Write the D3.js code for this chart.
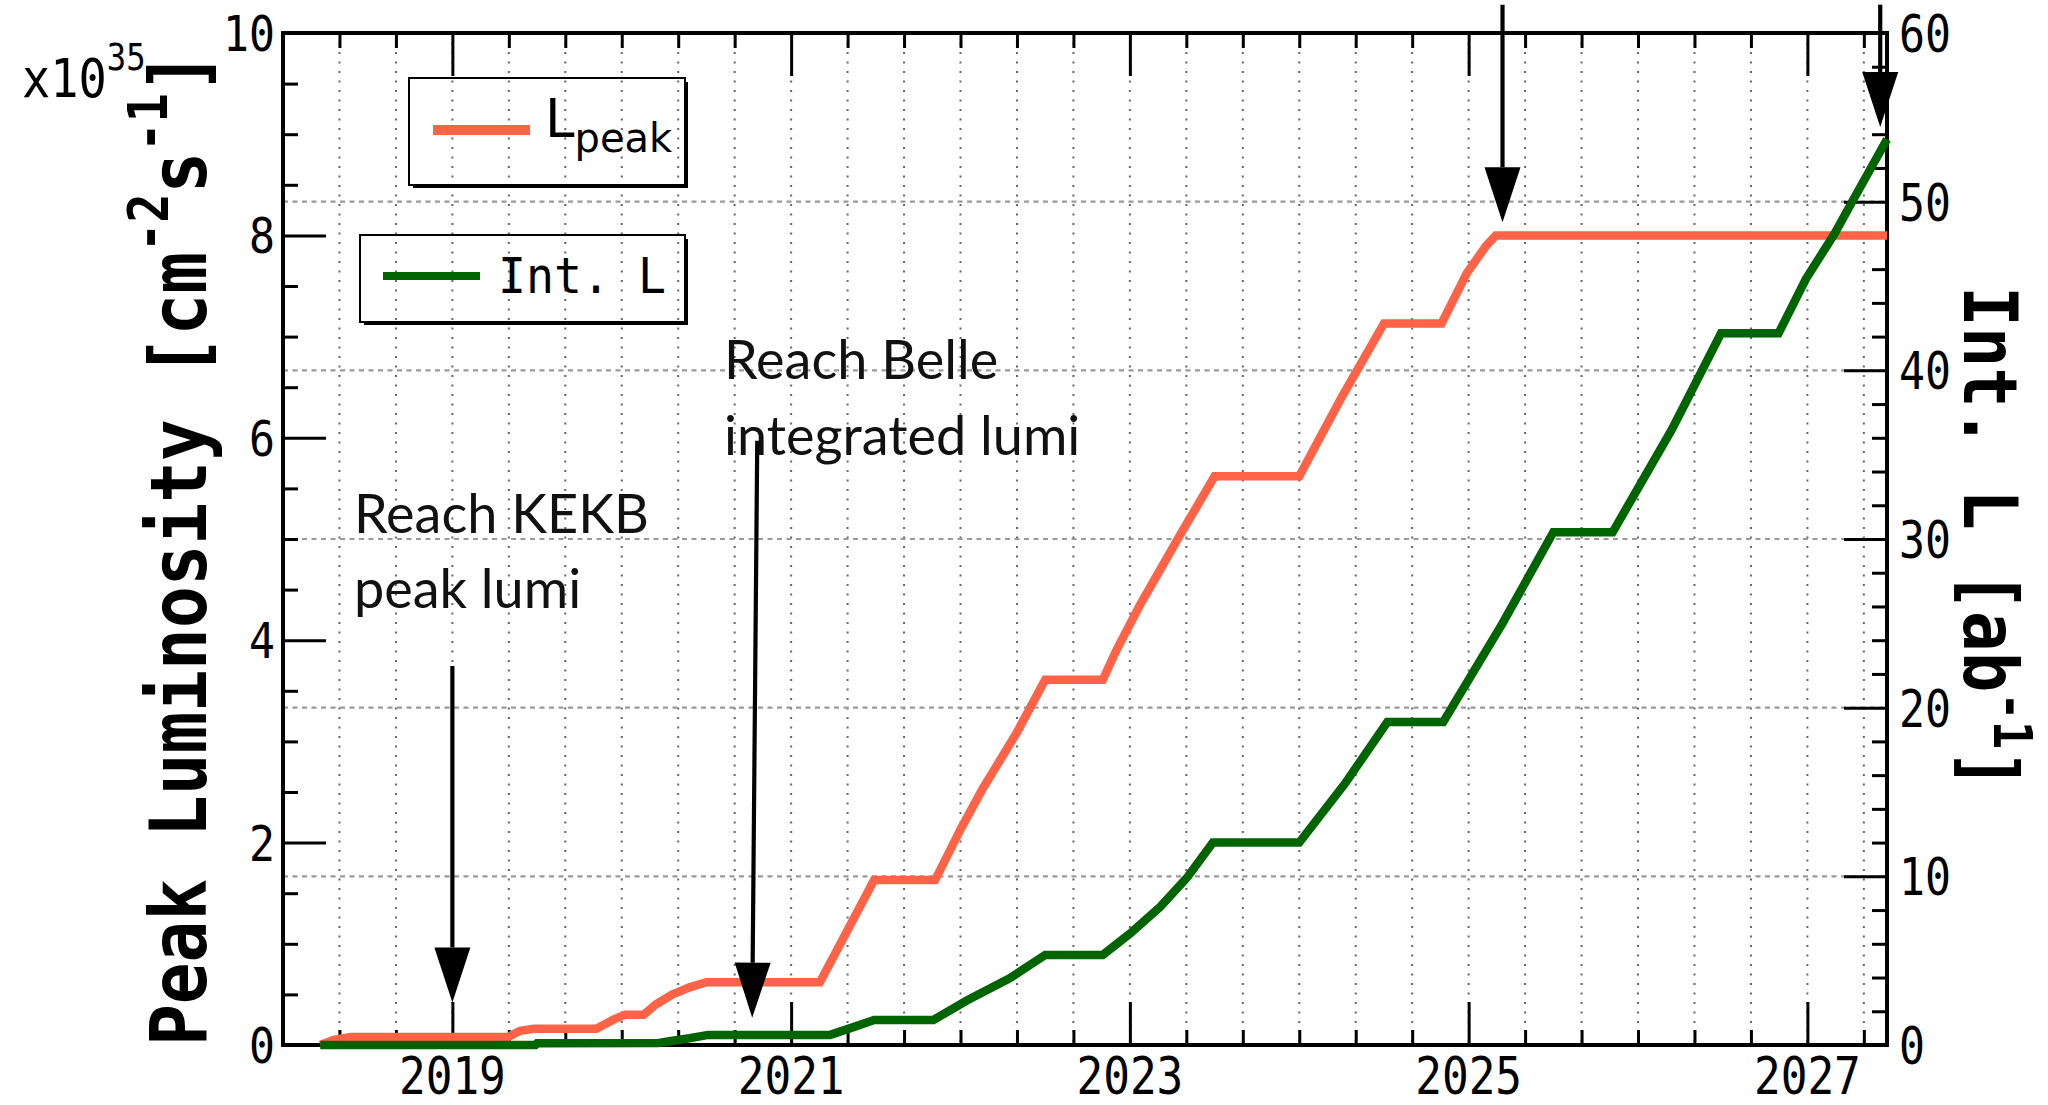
<!DOCTYPE html>
<html>
<head>
<meta charset="utf-8">
<script src="https://cdn.jsdelivr.net/npm/d3@7"></script>
<style>
  html, body { margin: 0; padding: 0; background: #fff; }
  svg { display: block; }
</style>
</head>
<body>
<svg id="chart" width="2048" height="1105"></svg>
<script>
// Luminosity projection: peak luminosity (left axis, x10^35 cm^-2 s^-1)
// and integrated luminosity (right axis, ab^-1) versus calendar year.

// ---- data ----
const lpeakYears = [2018.22, 2018.30, 2018.40, 2019.33, 2019.40, 2019.48, 2019.85, 2019.95,
  2020.02, 2020.13, 2020.20, 2020.30, 2020.40, 2020.50, 2021.17, 2021.49, 2021.85,
  2022.00, 2022.13, 2022.33, 2022.50, 2022.84, 2022.92, 2023.06, 2023.30, 2023.50,
  2024.00, 2024.25, 2024.50, 2024.84, 2024.99, 2025.10, 2025.16, 2027.47];
const lpeakValues = [0.00, 0.05, 0.08, 0.08, 0.14, 0.16, 0.16, 0.25,
  0.30, 0.30, 0.40, 0.50, 0.57, 0.62, 0.62, 1.63, 1.63,
  2.13, 2.53, 3.08, 3.61, 3.61, 3.90, 4.35, 5.05, 5.62,
  5.62, 6.40, 7.13, 7.13, 7.63, 7.89, 8.00, 8.00];

const intLYears = [2018.22, 2019.49, 2019.50, 2020.22, 2020.30, 2020.40, 2020.51, 2021.23,
  2021.35, 2021.49, 2021.84, 2022.04, 2022.29, 2022.50, 2022.84, 2023.00, 2023.18,
  2023.34, 2023.49, 2024.00, 2024.27, 2024.52, 2024.85, 2025.20, 2025.50, 2025.85,
  2026.20, 2026.49, 2026.83, 2026.99, 2027.16, 2027.27, 2027.47];
const intLValues = [0.00, 0.00, 0.10, 0.12, 0.25, 0.40, 0.60, 0.60,
  1.00, 1.48, 1.48, 2.65, 3.95, 5.34, 5.34, 6.60, 8.20,
  9.96, 12.00, 12.00, 15.50, 19.15, 19.15, 25.00, 30.40, 30.40,
  36.50, 42.20, 42.20, 45.40, 48.10, 50.10, 53.70];

const yearLabels = ["2019", "2021", "2023", "2025", "2027"];
const leftTickLabels = ["0", "2", "4", "6", "8", "10"];
const rightTickLabels = ["0", "10", "20", "30", "40", "50", "60"];

// event markers: year, arrow start value, arrow tip value (left-axis units)
const eventYearsFrom = [2019.00, 2020.80, 2025.20, 2027.43];
const eventYearsTo   = [2019.00, 2020.77, 2025.20, 2027.43];
const eventFrom      = [3.745, 5.97, 10.28, 10.28];
const eventTo        = [0.42, 0.27, 8.13, 9.07];
const noteKEKB  = ["Reach KEKB", "peak lumi"];
const noteBelle = ["Reach Belle", "integrated lumi"];

// ---- layout ----
const F = { left: 283, right: 1887, top: 33, bottom: 1045 };
const RED = "#ff6347", GREEN = "#006400";
const MONO = "'DejaVu Sans Mono', monospace";
const SANS = "'DejaVu Sans', sans-serif";
const NOTE = "Lato, 'Open Sans', sans-serif";

const svg = d3.select("#chart");

const x = d3.scaleLinear().domain([2018.0, 2027.47]).range([F.left, F.right]);
const yL = d3.scaleLinear().domain([0, 10]).range([F.bottom, F.top]);
const yR = d3.scaleLinear().domain([0, 60]).range([F.bottom, F.top]);

// ticks every four months, long ticks on labelled (odd) years
const xAll = d3.range(1, 29).map(k => 2018 + k / 3);
const xMajor = xAll.filter((d, i) => (i + 1) % 6 === 3);
const xMinor = xAll.filter((d, i) => (i + 1) % 6 !== 3);
const lMajor = leftTickLabels.map(Number);
const lMinor = d3.range(1, 20).map(k => k * 0.5).filter(v => v % 2 !== 0);
const rMajor = rightTickLabels.map(Number);
const rMinor = d3.range(1, 30).map(k => k * 2).filter(v => v % 10 !== 0);

// ---- grid ----
svg.append("g").selectAll("line").data(xAll).join("line")
  .attr("x1", d => x(d)).attr("x2", d => x(d))
  .attr("y1", F.top).attr("y2", F.bottom)
  .attr("stroke", "#666").attr("stroke-width", 2)
  .attr("stroke-dasharray", "2 7.5");

svg.append("g").selectAll("line").data(rMajor.filter(v => v > 0 && v < 60)).join("line")
  .attr("x1", F.left).attr("x2", F.right)
  .attr("y1", d => yR(d)).attr("y2", d => yR(d))
  .attr("stroke", "#9a9a9a").attr("stroke-width", 2.2)
  .attr("stroke-dasharray", "5 4.5");

// ---- annotation texts ----
function note(lines, x0, y0, gap) {
  const t = svg.append("g");
  lines.forEach((s, i) => {
    t.append("text").attr("x", x0).attr("y", y0 + i * gap)
      .attr("font-family", NOTE).attr("font-size", 54).attr("fill", "#111").text(s);
  });
}
note(noteKEKB, 354, 533, 75);
note(noteBelle, 724, 379, 76);

// ---- axes (tick marks) ----
function ticks(gen, scale, vals, size, tr) {
  const g = svg.append("g").attr("transform", tr)
    .call(gen(scale).tickValues(vals).tickSize(size).tickSizeOuter(0).tickFormat(""));
  g.select(".domain").remove();
  g.selectAll(".tick line").attr("stroke", "#000").attr("stroke-width", 3);
  return g;
}
ticks(d3.axisBottom, x, xMajor, -43, `translate(0,${F.bottom})`);
ticks(d3.axisBottom, x, xMinor, -15, `translate(0,${F.bottom})`);
ticks(d3.axisTop, x, xMajor, -43, `translate(0,${F.top})`);
ticks(d3.axisTop, x, xMinor, -15, `translate(0,${F.top})`);
ticks(d3.axisLeft, yL, lMajor, -43, `translate(${F.left},0)`);
ticks(d3.axisLeft, yL, lMinor, -15, `translate(${F.left},0)`);
ticks(d3.axisRight, yR, rMajor, -43, `translate(${F.right},0)`);
ticks(d3.axisRight, yR, rMinor, -15, `translate(${F.right},0)`);

svg.append("rect")
  .attr("x", F.left).attr("y", F.top)
  .attr("width", F.right - F.left).attr("height", F.bottom - F.top)
  .attr("fill", "none").attr("stroke", "#000").attr("stroke-width", 4);

// ---- tick labels ----
svg.append("g").selectAll("text").data(yearLabels).join("text")
  .attr("transform", d => `translate(${x(+d)},1094) scale(0.87,1)`)
  .attr("text-anchor", "middle").attr("font-family", MONO).attr("font-size", 51)
  .text(d => d);

svg.append("g").selectAll("text").data(leftTickLabels).join("text")
  .attr("transform", d => `translate(275,${yL(+d) + 18}) scale(0.88,1)`)
  .attr("text-anchor", "end").attr("font-family", MONO).attr("font-size", 49)
  .text(d => d);

svg.append("g").selectAll("text").data(rightTickLabels).join("text")
  .attr("transform", d => `translate(1899,${yR(+d) + 19}) scale(0.83,1)`)
  .attr("text-anchor", "start").attr("font-family", MONO).attr("font-size", 52)
  .text(d => d);

// exponent
const ex = svg.append("text").attr("transform", "translate(22,97) scale(0.87,1)")
  .attr("font-family", MONO).attr("font-size", 54);
ex.append("tspan").text("x10");
ex.append("tspan").attr("font-size", 37).attr("dy", -27).text("35");

// ---- axis titles ----
function title(tr, size, shift, parts) {
  const t = svg.append("text").attr("transform", tr)
    .attr("font-family", MONO).attr("font-weight", "bold").attr("font-size", size);
  parts.forEach(p => {
    t.append("tspan").attr("font-size", p[1] ? size * 0.7 : size)
      .attr("dy", p[2] * shift).text(p[0]);
  });
}
title("translate(206,1046) rotate(-90) scale(0.89,1)", 78, 39,
  [["Peak Luminosity [cm", false, 0], ["-2", true, -1], ["s", false, 1],
   ["-1", true, -1], ["]", false, 1]]);
title("translate(1964,286) rotate(90) scale(0.9,1)", 75, 30,
  [["Int. L [ab", false, 0], ["-1", true, -1], ["]", false, 1]]);

// ---- data lines ----
const redPts = lpeakYears.map((yr, i) => [yr, lpeakValues[i]]);
const greenPts = intLYears.map((yr, i) => [yr, intLValues[i]]);

svg.append("path").datum(redPts)
  .attr("d", d3.line().x(d => x(d[0])).y(d => yL(d[1])))
  .attr("fill", "none").attr("stroke", RED).attr("stroke-width", 8.5);

svg.append("path").datum(greenPts)
  .attr("d", d3.line().x(d => x(d[0])).y(d => yR(d[1])))
  .attr("fill", "none").attr("stroke", GREEN).attr("stroke-width", 8.5);

// ---- legends ----
function legendBox(x0, y0, w, h) {
  svg.append("rect").attr("x", x0).attr("y", y0).attr("width", w).attr("height", h)
    .attr("fill", "none").attr("stroke", "#000").attr("stroke-width", 2);
  svg.append("path")
    .attr("d", `M${x0 + 4},${y0 + h + 1.5} H${x0 + w + 1.5} V${y0 + 4}`)
    .attr("fill", "none").attr("stroke", "#000").attr("stroke-width", 3);
}
legendBox(409, 78, 276, 107);
svg.append("line").attr("x1", 433).attr("x2", 530).attr("y1", 130).attr("y2", 130)
  .attr("stroke", RED).attr("stroke-width", 10);
const lp = svg.append("text").attr("x", 545).attr("y", 137)
  .attr("font-family", SANS).attr("font-size", 53);
lp.append("tspan").text("L");
lp.append("tspan").attr("font-size", 40).attr("dy", 15).text("peak");

legendBox(360, 235, 325, 87);
svg.append("line").attr("x1", 383).attr("x2", 480).attr("y1", 276).attr("y2", 276)
  .attr("stroke", GREEN).attr("stroke-width", 8);
svg.append("text").attr("transform", "translate(498,293) scale(0.95,1)")
  .attr("font-family", MONO).attr("font-size", 49).text("Int. L");

// ---- event arrows ----
const HEAD_L = 55, HEAD_W = 18;
eventYearsFrom.forEach((yr, i) => {
  const x1 = x(yr), y1 = yL(eventFrom[i]);
  const x2 = x(eventYearsTo[i]), y2 = yL(eventTo[i]);
  const len = Math.hypot(x2 - x1, y2 - y1);
  const ux = (x2 - x1) / len, uy = (y2 - y1) / len;
  const bx = x2 - ux * HEAD_L, by = y2 - uy * HEAD_L;
  svg.append("line").attr("x1", x1).attr("y1", y1).attr("x2", bx).attr("y2", by)
    .attr("stroke", "#000").attr("stroke-width", 4.2);
  svg.append("path")
    .attr("d", `M${x2},${y2} L${bx - uy * HEAD_W},${by + ux * HEAD_W} L${bx + uy * HEAD_W},${by - ux * HEAD_W} Z`)
    .attr("fill", "#000");
});
</script>
</body>
</html>
